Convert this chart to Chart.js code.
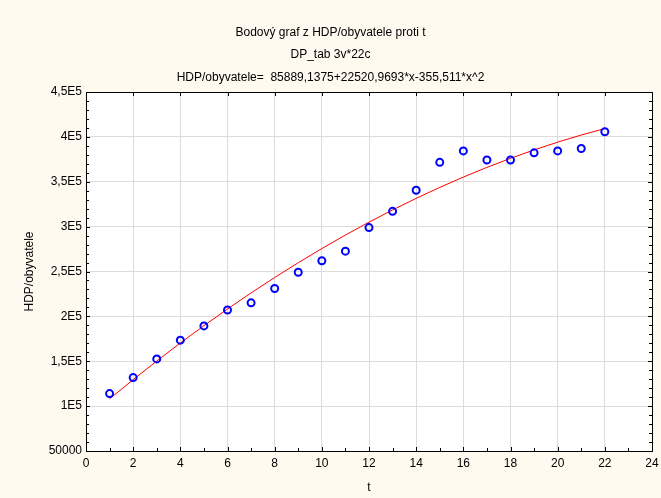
<!DOCTYPE html>
<html lang="cs">
<head>
    <meta charset="UTF-8">
    <title>Bodový graf z HDP/obyvatele proti t</title>
    <script src="https://cdn.jsdelivr.net/npm/chart.js@4.4.0/dist/chart.umd.min.js"></script>
    <style>
        html, body {
            margin: 0;
            padding: 0;
            background: #fffaf0;
        }
        #wrap {
            width: 661px;
            height: 498px;
        }
    </style>
</head>
<body>
    <div id="wrap"><canvas id="chart" width="661" height="498"></canvas></div>

    <script>
        'use strict';

        // roky (t) a HDP na obyvatele
        const tValues = [1, 2, 3, 4, 5, 6, 7, 8, 9, 10, 11, 12, 13, 14, 15, 16, 17, 18, 19, 20, 21, 22];
        const hdpValues = [114000, 131800, 152600, 173500, 189400, 207100, 215100, 231000, 249200, 262000, 272700,
            298900, 317000, 340500, 371600, 384400, 374200, 374200, 382200, 384400, 387000, 405700];

        // prolozena krivka
        const fitValues = [108055, 129509, 150252, 170285, 189606, 208217, 226116, 243304, 259782, 275548, 290603,
            304947, 318580, 331503, 343714, 355214, 365993, 376081, 385448, 394104, 402049, 409283];

        const yTickLabels = {
            50000: '50000', 100000: '1E5', 150000: '1,5E5', 200000: '2E5', 250000: '2,5E5',
            300000: '3E5', 350000: '3,5E5', 400000: '4E5', 450000: '4,5E5'
        };

        const titleLines = [
            'Bodový graf z HDP/obyvatele proti t',
            'DP_tab 3v*22c',
            'HDP/obyvatele=  85889,1375+22520,9693*x-355,511*x^2'
        ];

        const FONT = 'Arial, "Liberation Sans", sans-serif';

        // bily podklad plochy grafu
        const plotBg = {
            id: 'plotBg',
            beforeDraw(chart) {
                const a = chart.chartArea, ctx = chart.ctx;
                ctx.save();
                ctx.fillStyle = '#ffffff';
                ctx.fillRect(a.left, a.top, a.right - a.left, a.bottom - a.top);
                ctx.restore();
            }
        };

        // ramecek a vnitrni znacky
        const frame = {
            id: 'frame',
            afterDatasetsDraw(chart) {
                const a = chart.chartArea, ctx = chart.ctx;
                const xs = chart.scales.x, ys = chart.scales.y;
                ctx.save();
                ctx.strokeStyle = '#000000';
                ctx.lineWidth = 1;
                ctx.beginPath();
                // osa x
                for (let v = 0; v <= 24; v++) {
                    const px = Math.round(xs.getPixelForValue(v)) + 0.5;
                    const len = v % 2 === 0 ? 4 : 3;
                    ctx.moveTo(px, a.bottom);
                    ctx.lineTo(px, a.bottom - len);
                    if (v % 2 === 0) {
                        ctx.moveTo(px, a.top);
                        ctx.lineTo(px, a.top + 4);
                    }
                }
                // osa y
                for (let v = 50000; v <= 450000; v += 10000) {
                    const py = Math.round(ys.getPixelForValue(v)) + 0.5;
                    const len = v % 50000 === 0 ? 4 : 3;
                    ctx.moveTo(a.left, py);
                    ctx.lineTo(a.left + len, py);
                    ctx.moveTo(a.right, py);
                    ctx.lineTo(a.right - len, py);
                }
                ctx.stroke();
                ctx.strokeRect(Math.round(a.left) + 0.5, Math.round(a.top) + 0.5,
                    Math.round(a.right - a.left), Math.round(a.bottom - a.top));
                ctx.restore();
            }
        };

        const ctx = document.getElementById('chart').getContext('2d');
        new Chart(ctx, {
            type: 'scatter',
            data: {
                datasets: [{
                    label: 'HDP/obyvatele',
                    data: tValues.map((t, i) => ({ x: t, y: hdpValues[i] })),
                    pointStyle: 'circle',
                    pointRadius: 3.5,
                    pointBorderWidth: 2,
                    pointBorderColor: '#0000ff',
                    pointBackgroundColor: 'rgba(0,0,0,0)',
                    showLine: false,
                    order: 1
                }, {
                    label: 'fit',
                    data: tValues.map((t, i) => ({ x: t, y: fitValues[i] })),
                    showLine: true,
                    borderColor: '#ff0000',
                    borderWidth: 1,
                    pointRadius: 0,
                    tension: 0.4,
                    cubicInterpolationMode: 'monotone',
                    order: 2
                }]
            },
            plugins: [plotBg, frame],
            options: {
                responsive: false,
                animation: false,
                layout: { padding: { left: 0, right: 0, top: 0, bottom: 0 } },
                plugins: {
                    legend: { display: false },
                    tooltip: { enabled: false },
                    title: {
                        display: true,
                        text: titleLines,
                        color: '#000000',
                        font: { family: FONT, size: 12, weight: 'normal', lineHeight: 22.5 / 12 },
                        padding: { top: 21, bottom: 3.5 }
                    }
                },
                scales: {
                    x: {
                        type: 'linear',
                        min: 0,
                        max: 24,
                        border: { display: false },
                        grid: { color: '#dcdcdc', drawTicks: false },
                        ticks: {
                            stepSize: 2,
                            padding: 5,
                            color: '#000000',
                            font: { family: FONT, size: 12 }
                        },
                        title: {
                            display: true,
                            text: 't',
                            color: '#000000',
                            font: { family: FONT, size: 12 },
                            padding: { top: 8, bottom: 3 }
                        },
                        afterFit(scale) {
                            scale.height = 47;
                            scale.paddingLeft = 0;
                            scale.paddingRight = 9;
                        }
                    },
                    y: {
                        type: 'linear',
                        min: 50000,
                        max: 450000,
                        border: { display: false },
                        grid: { color: '#dcdcdc', drawTicks: false },
                        ticks: {
                            stepSize: 50000,
                            padding: 4,
                            color: '#000000',
                            font: { family: FONT, size: 12 },
                            callback: (v) => yTickLabels[v] !== undefined ? yTickLabels[v] : ''
                        },
                        title: {
                            display: true,
                            text: 'HDP/obyvatele',
                            color: '#000000',
                            font: { family: FONT, size: 12 },
                            padding: { top: 22, bottom: 0 }
                        },
                        afterFit(scale) { scale.width = 86; }
                    }
                }
            }
        });
    </script>
</body>
</html>
